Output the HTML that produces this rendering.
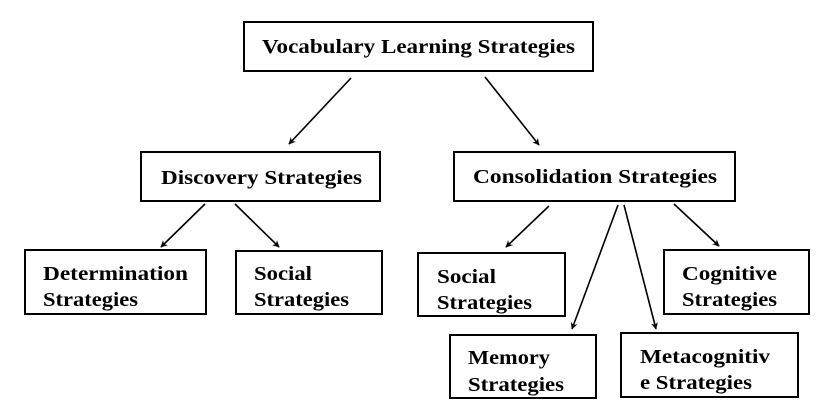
<!DOCTYPE html>
<html><head><meta charset="utf-8"><style>
html,body{margin:0;padding:0;background:#fff;}
svg{display:block;}
text{font-family:"Liberation Serif",serif;font-weight:bold;font-size:20px;fill:#000;}
</style></head><body>
<svg width="823" height="417" viewBox="0 0 823 417" xmlns="http://www.w3.org/2000/svg">
<defs>
<marker id="a" viewBox="0 0 10 10" refX="9" refY="5" markerWidth="7" markerHeight="7" orient="auto" markerUnits="userSpaceOnUse">
<path d="M0,0 L10,5 L0,10 L3,5 z" fill="#000"/>
</marker>
</defs>
<g fill="none" stroke="#000" stroke-width="2">
<rect x="244" y="22" width="349" height="49"/>
<rect x="141" y="152" width="239" height="49"/>
<rect x="454" y="152" width="281" height="49"/>
<rect x="25" y="250" width="181" height="64"/>
<rect x="236" y="251" width="146" height="63"/>
<rect x="418" y="253" width="147" height="63"/>
<rect x="664" y="250" width="145" height="64"/>
<rect x="450" y="335" width="146" height="63"/>
<rect x="621" y="333" width="177" height="64"/>
</g>
<g stroke="#000" stroke-width="1.6" marker-end="url(#a)">
<line x1="351" y1="78" x2="289" y2="144"/>
<line x1="485" y1="77" x2="539" y2="145"/>
<line x1="205" y1="204" x2="161" y2="247"/>
<line x1="235" y1="204" x2="279" y2="247"/>
<line x1="549" y1="206" x2="506" y2="247"/>
<line x1="618" y1="205" x2="572" y2="329"/>
<line x1="624" y1="205" x2="656" y2="329"/>
<line x1="674" y1="204" x2="719" y2="246"/>
</g>
<text x="262" y="53" textLength="313" lengthAdjust="spacingAndGlyphs">Vocabulary Learning Strategies</text>
<text x="161" y="184" textLength="201" lengthAdjust="spacingAndGlyphs">Discovery Strategies</text>
<text x="473" y="183" textLength="244" lengthAdjust="spacingAndGlyphs">Consolidation Strategies</text>
<text x="43" y="280" textLength="145" lengthAdjust="spacingAndGlyphs">Determination</text>
<text x="43" y="306" textLength="95" lengthAdjust="spacingAndGlyphs">Strategies</text>
<text x="254" y="280" textLength="58" lengthAdjust="spacingAndGlyphs">Social</text>
<text x="254" y="306" textLength="95" lengthAdjust="spacingAndGlyphs">Strategies</text>
<text x="437" y="283" textLength="59" lengthAdjust="spacingAndGlyphs">Social</text>
<text x="437" y="309" textLength="95" lengthAdjust="spacingAndGlyphs">Strategies</text>
<text x="682" y="280" textLength="95" lengthAdjust="spacingAndGlyphs">Cognitive</text>
<text x="682" y="306" textLength="95" lengthAdjust="spacingAndGlyphs">Strategies</text>
<text x="468" y="364" textLength="82" lengthAdjust="spacingAndGlyphs">Memory</text>
<text x="468" y="391" textLength="96" lengthAdjust="spacingAndGlyphs">Strategies</text>
<text x="640" y="363" textLength="130" lengthAdjust="spacingAndGlyphs">Metacognitiv</text>
<text x="640" y="389" textLength="112" lengthAdjust="spacingAndGlyphs">e Strategies</text>
</svg>
</body></html>
